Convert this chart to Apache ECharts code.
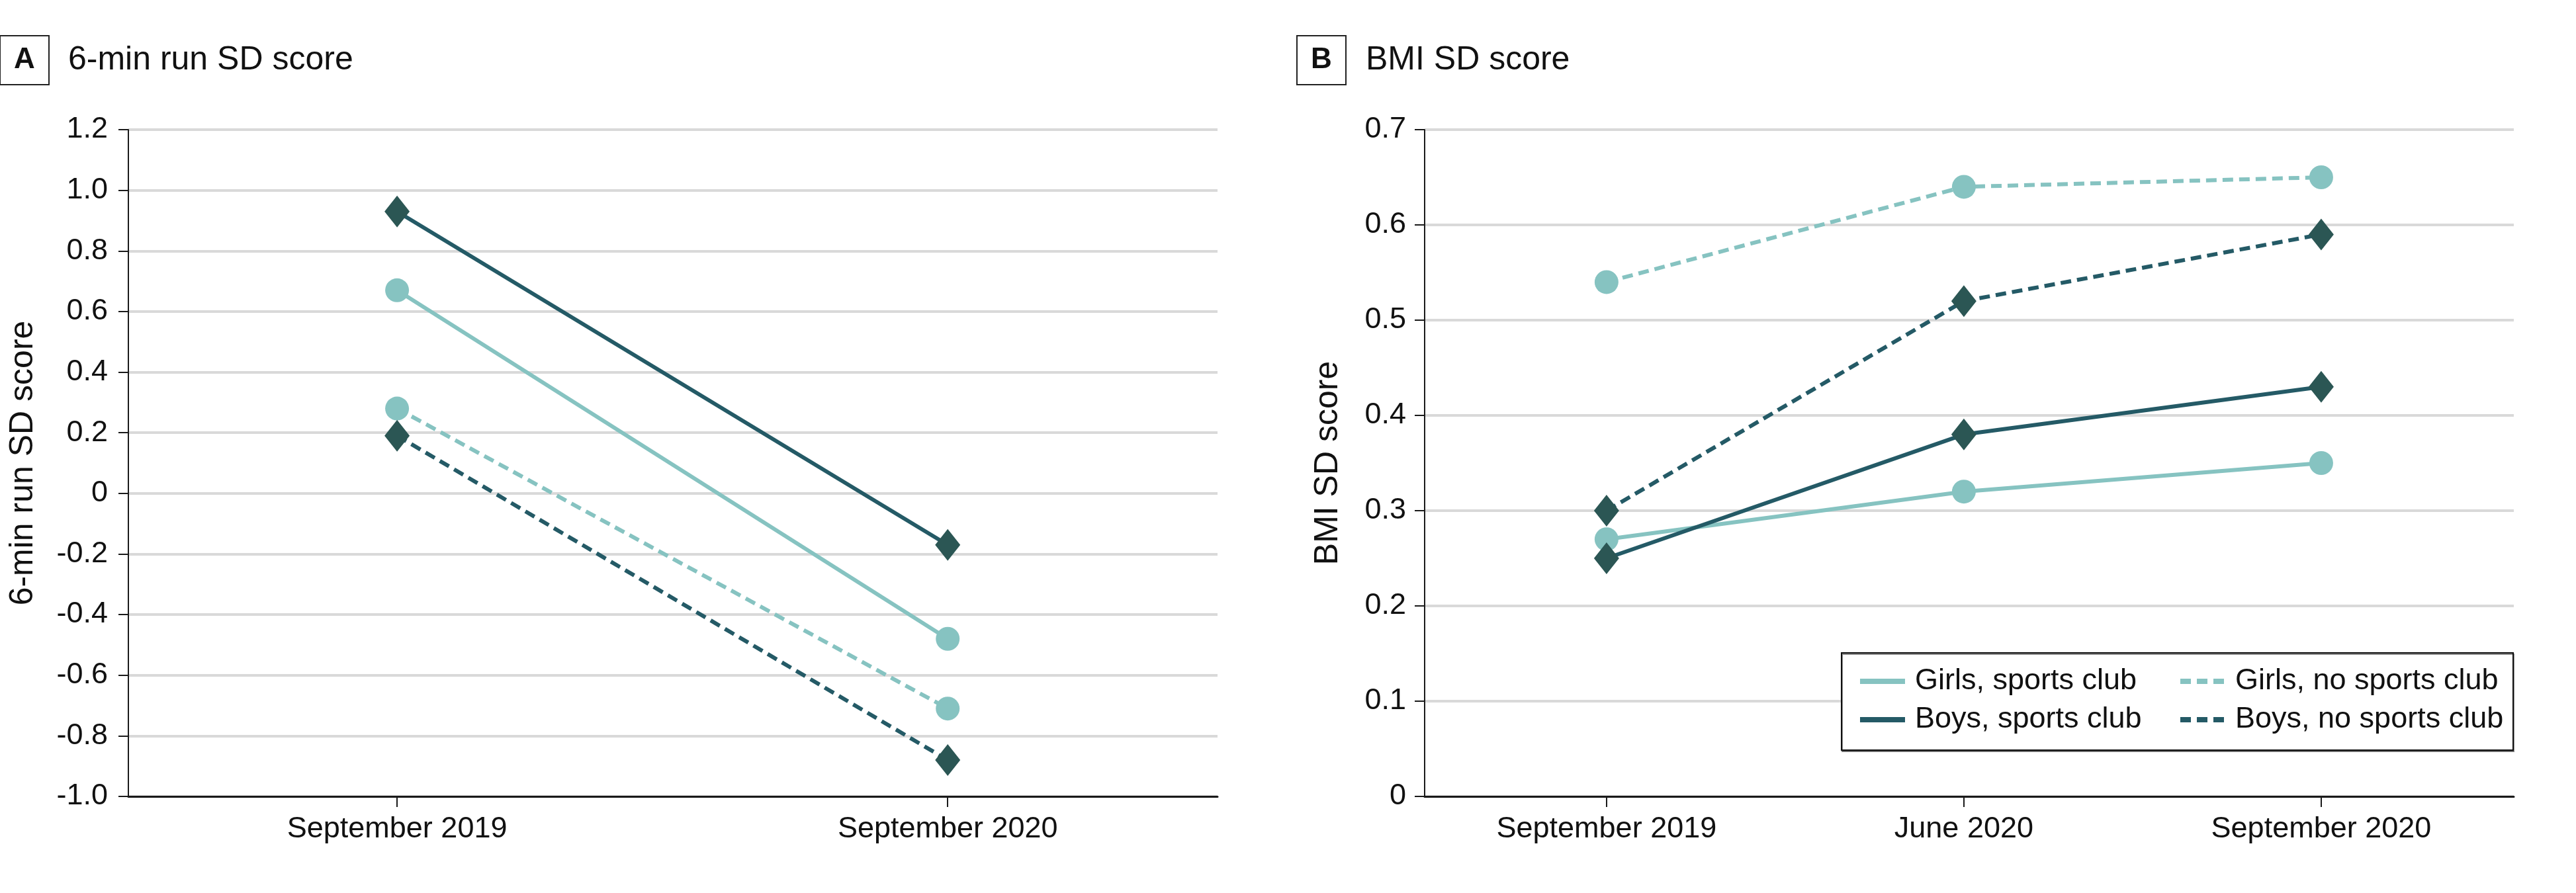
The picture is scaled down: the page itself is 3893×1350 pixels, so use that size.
<!DOCTYPE html>
<html>
<head>
<meta charset="utf-8">
<script src="https://cdn.jsdelivr.net/npm/echarts@6/dist/echarts.min.js"></script>
<style>
html,body{margin:0;padding:0;background:#fff;}
#chart{width:3893px;height:1350px;}
</style>
</head>
<body>
<div id="chart"></div>
<script>
// ---------- data ----------
const categoriesA = ['September 2019', 'September 2020'];
const categoriesB = ['September 2019', 'June 2020', 'September 2020'];
const seriesNames = ['Girls, sports club', 'Boys, sports club', 'Girls, no sports club', 'Boys, no sports club'];

// Panel A: 6-min run SD score
const runGirlsClub   = [0.67, -0.48];
const runBoysClub    = [0.93, -0.17];
const runGirlsNoClub = [0.28, -0.71];
const runBoysNoClub  = [0.19, -0.88];

// Panel B: BMI SD score
const bmiGirlsClub   = [0.27, 0.32, 0.35];
const bmiBoysClub    = [0.25, 0.38, 0.43];
const bmiGirlsNoClub = [0.54, 0.64, 0.65];
const bmiBoysNoClub  = [0.30, 0.52, 0.59];

const panelTitles = ['6-min run SD score', 'BMI SD score'];
const panelLetters = ['A', 'B'];
const axisNames = ['6-min run SD score', 'BMI SD score'];

// ---------- styles ----------
const FONT = '"Liberation Sans", Arial, sans-serif';
const LIGHT = '#86C3C1';
const DARK_LINE = '#245A66';
const DARK_MARK = '#2B5654';
const AXIS = '#1a1a1a';
const GRID = '#D9D9D9';
const DASH = [16, 9];

const seriesStyle = [
  {color: LIGHT, mark: LIGHT, symbol: 'circle', size: 36, dash: 'solid'},
  {color: DARK_LINE, mark: DARK_MARK, symbol: 'diamond', size: [38, 48], dash: 'solid'},
  {color: LIGHT, mark: LIGHT, symbol: 'circle', size: 36, dash: DASH},
  {color: DARK_LINE, mark: DARK_MARK, symbol: 'diamond', size: [38, 48], dash: DASH}
];

function fmtY(v) {
  if (Math.abs(v) < 1e-9) return '0';
  return v.toFixed(1);
}

function mkSeries(panel, valuesList) {
  return valuesList.map((vals, k) => {
    const st = seriesStyle[k];
    return {
      name: seriesNames[k],
      type: 'line',
      xAxisIndex: panel,
      yAxisIndex: panel,
      data: vals.map((v, i) => [i, v]),
      symbol: st.symbol,
      symbolSize: st.size,
      showSymbol: true,
      itemStyle: {color: st.mark},
      lineStyle: {color: st.color, width: 6, type: st.dash},
      z: 2 + k,
      animation: false
    };
  });
}

function mkXAxis(panel, cats, min, max) {
  const idx = cats.map((c, i) => i);
  return {
    type: 'value',
    gridIndex: panel,
    min: min,
    max: max,
    splitLine: {show: false},
    axisLine: {show: true, onZero: false, lineStyle: {color: AXIS, width: 3}},
    axisTick: {show: true, customValues: idx, length: 16, lineStyle: {color: AXIS, width: 2}},
    axisLabel: {
      show: true, customValues: idx, margin: 27,
      formatter: v => cats[Math.round(v)] || '',
      fontFamily: FONT, fontSize: 45, lineHeight: 45, color: '#111'
    }
  };
}

function mkYAxis(panel, min, max, interval, labelMargin, nameGap) {
  return {
    type: 'value',
    gridIndex: panel,
    min: min, max: max, interval: interval,
    name: axisNames[panel],
    nameLocation: 'middle',
    nameGap: nameGap,
    nameRotate: 90,
    nameTextStyle: {fontFamily: FONT, fontSize: 50, color: '#111'},
    axisLine: {show: true, onZero: false, lineStyle: {color: AXIS, width: 2}},
    axisTick: {show: true, length: 15, lineStyle: {color: AXIS, width: 2}},
    axisLabel: {formatter: fmtY, margin: labelMargin, fontFamily: FONT, fontSize: 45, color: '#111'},
    splitLine: {show: true, lineStyle: {color: GRID, width: 4}}
  };
}

function letterTitle(letter, left) {
  return {
    text: letter, left: left, top: 54,
    padding: [15, 21], borderWidth: 2, borderColor: '#222',
    textStyle: {fontFamily: FONT, fontSize: 44, fontWeight: 'bold', lineHeight: 44, color: '#111'}
  };
}
function mainTitle(text, left) {
  return {
    text: text, left: left, top: 66, padding: 0,
    textStyle: {fontFamily: FONT, fontSize: 50, fontWeight: 'normal', lineHeight: 50, color: '#111'}
  };
}

const legendCommon = {
  orient: 'vertical',
  top: 1005,
  padding: 0,
  itemWidth: 68,
  itemHeight: 20,
  itemGap: 8,
  textStyle: {fontFamily: FONT, fontSize: 45, lineHeight: 50, color: '#111', padding: [0, 0, 0, 10]},
  lineStyle: {width: 8},
  itemStyle: {color: 'rgba(0,0,0,0)', borderWidth: 0, opacity: 0},
  z: 10
};

const option = {
  backgroundColor: '#fff',
  animation: false,
  title: [
    letterTitle(panelLetters[0], 0),
    mainTitle(panelTitles[0], 103),
    letterTitle(panelLetters[1], 1960),
    mainTitle(panelTitles[1], 2064)
  ],
  grid: [
    {left: 194, right: 3893 - 1840, top: 196, bottom: 1350 - 1204},
    {left: 2153, right: 3893 - 3799, top: 196, bottom: 1350 - 1204}
  ],
  xAxis: [
    mkXAxis(0, categoriesA, -0.488, 1.49),
    mkXAxis(1, categoriesB, -0.509, 2.539)
  ],
  yAxis: [
    mkYAxis(0, -1, 1.2, 0.2, 31, 134),
    mkYAxis(1, 0, 0.7, 0.1, 28, 121)
  ],
  graphic: [{
    type: 'rect',
    shape: {x: 2783, y: 987, width: 1015, height: 147},
    style: {fill: '#fff', stroke: '#111', lineWidth: 2, shadowColor: 'rgba(0,0,0,0.45)', shadowOffsetY: 2, shadowOffsetX: 1},
    z: 5
  }],
  legend: [
    Object.assign({}, legendCommon, {left: 2807, data: [seriesNames[0], seriesNames[1]]}),
    Object.assign({}, legendCommon, {left: 3291, data: [seriesNames[2], seriesNames[3]]})
  ],
  series: [].concat(
    mkSeries(0, [runGirlsClub, runBoysClub, runGirlsNoClub, runBoysNoClub]),
    mkSeries(1, [bmiGirlsClub, bmiBoysClub, bmiGirlsNoClub, bmiBoysNoClub])
  )
};

const chart = echarts.init(document.getElementById('chart'), null, {renderer: 'canvas'});
chart.setOption(option);
</script>
</body>
</html>
